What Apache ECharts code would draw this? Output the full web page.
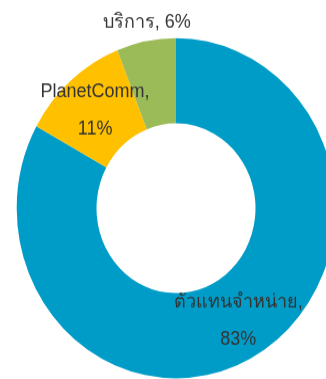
<!DOCTYPE html>
<html>
<head>
<meta charset="utf-8">
<script src="https://cdn.jsdelivr.net/npm/echarts@6/dist/echarts.min.js"></script>
<style>
html{margin:0;padding:0;background:#fff;overflow:hidden;height:379px;}
body{margin:0;padding:0;background:#fff;height:379px;}
#c{width:326px;height:355px;transform:scaleY(1.0675);transform-origin:0 0;}
</style>
</head>
<body>
<div id="c"></div>
<script>
const categories = ['ตัวแทนจำหน่าย', 'PlanetComm', 'บริการ'];
const values = [83, 11, 6];
const colors = ['#009CC8', '#FFC000', '#9BBB59'];

const chart = echarts.init(document.getElementById('c'), null, {renderer: 'canvas'});
const data = categories.map((name, i) => {
  const item = {name: name, value: values[i], itemStyle: {color: colors[i]}};
  if (i === 2) {
    item.label = {position: 'outside', formatter: '{b}, {c}%'};
    item.labelLine = {show: false, length: 10, length2: 0};
  }
  return item;
});
chart.setOption({
  animation: false,
  series: [{
    type: 'pie',
    center: [176, 195.1],
    radius: [79.5, 159.3],
    startAngle: 90,
    clockwise: true,
    avoidLabelOverlap: false,
    label: {
      show: true,
      position: 'inside',
      formatter: '{b},\n{c}%',
      color: '#333333',
      fontSize: 18,
      lineHeight: 35,
      fontFamily: 'Liberation Sans, Arial, sans-serif'
    },
    labelLine: {show: false},
    labelLayout: function (p) {
      if (p.dataIndex === 2) {
        return {x: p.rect.x + p.rect.width / 2, y: p.rect.y - 14.3, align: 'center', verticalAlign: 'middle'};
      }
      return {};
    },
    itemStyle: {borderWidth: 0},
    emphasis: {disabled: true},
    data: data
  }]
});
</script>
</body>
</html>
